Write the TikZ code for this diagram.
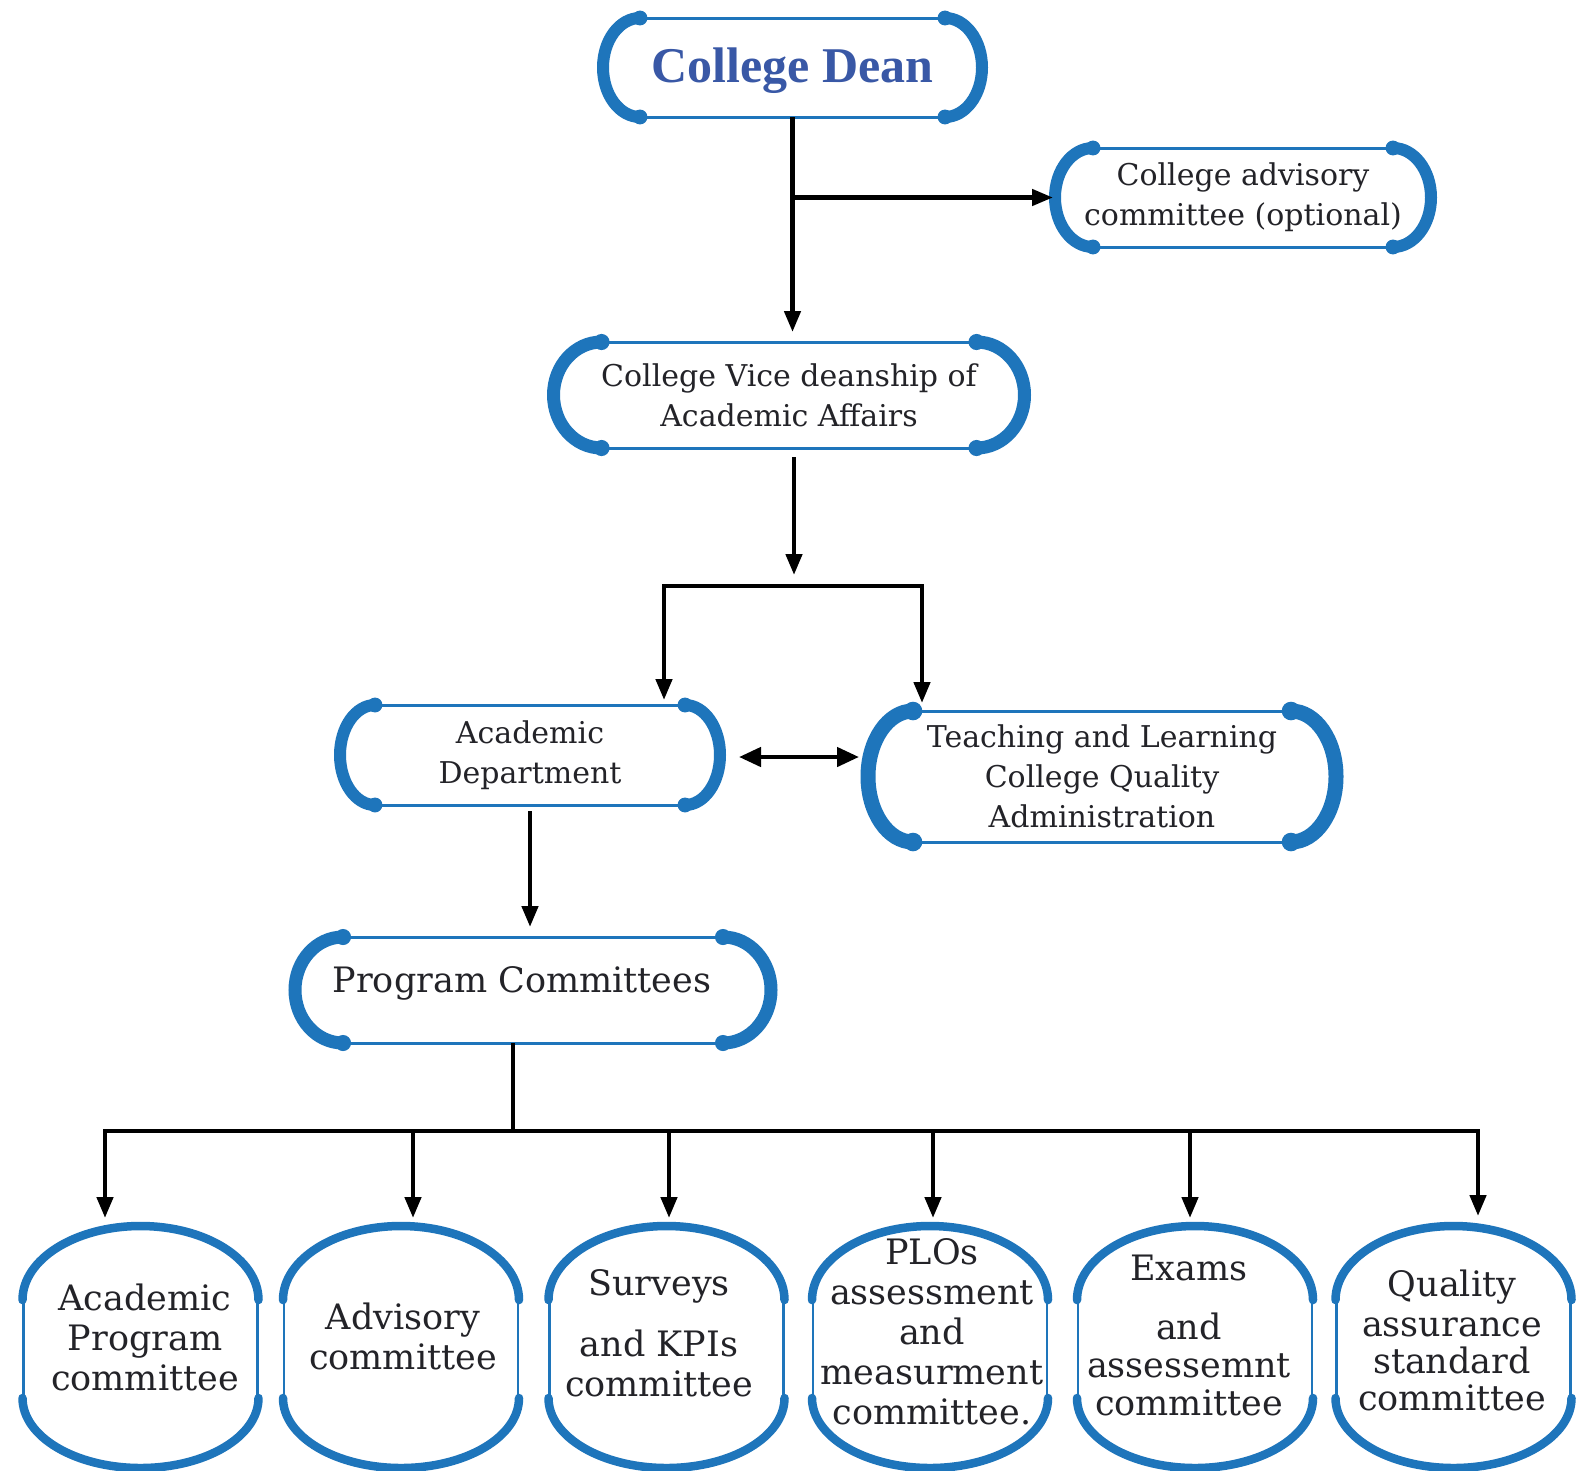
\documentclass[tikz,border=0pt]{standalone}
\usepackage{fontspec}
\setmainfont{DejaVu Serif}
\newfontfamily\deanfont{Liberation Serif}
\usetikzlibrary{arrows.meta}
\definecolor{boxblue}{RGB}{30,117,187}
\definecolor{deanblue}{RGB}{57,88,166}
\definecolor{txtc}{RGB}{35,35,40}

\tikzset{
 thinb/.style={draw=boxblue,line width=3pt},
 capbox/.style={inner sep=0pt,outer sep=0pt,text=txtc,align=center,font=\fontsize{30pt}{40pt}\selectfont},
 botbox/.style={inner sep=0pt,text=txtc,align=center,font=\fontsize{35pt}{40pt}\selectfont},
 conn/.style={line width=4.5pt,black},
 arr/.style={conn,-{Triangle[length=21pt,width=16pt]}},
 arrtwo/.style={conn,{Triangle[length=21pt,width=16pt]}-{Triangle[length=21pt,width=16pt]}},
 darr/.style={conn,{Triangle[length=22pt,width=19pt]}-{Triangle[length=22pt,width=19pt]}},
}

\newcommand{\capdeco}[4]{%
 \draw[thinb] ([xshift=#2]#1.north west) -- ([xshift=-#2]#1.north east);
 \draw[thinb] ([xshift=#2]#1.south west) -- ([xshift=-#2]#1.south east);
 \draw[boxblue,line width=#4,line cap=round] ([xshift=#2]#1.north west) arc[start angle=90,end angle=270,x radius=#2,y radius=#3];
 \draw[boxblue,line width=#4,line cap=round] ([xshift=-#2]#1.north east) arc[start angle=90,end angle=-90,x radius=#2,y radius=#3];
 \foreach \a in {north west,south west}{\fill[boxblue] ([xshift=#2]#1.\a) circle[radius=#4*0.62];}
 \foreach \a in {north east,south east}{\fill[boxblue] ([xshift=-#2]#1.\a) circle[radius=#4*0.62];}
}

\newcommand{\ovaldeco}[1]{%
 \draw[boxblue,line width=8.5pt,line cap=round] ({#1-118},1300) arc[start angle=180,end angle=0,x radius=118pt,y radius=74pt];
 \draw[boxblue,line width=8.5pt,line cap=round] ({#1-118},1398) arc[start angle=180,end angle=360,x radius=118pt,y radius=70pt];
 \draw[thinb,line width=2.5pt] ({#1-117},1300) -- ({#1-117},1398);
 \draw[thinb,line width=2.5pt] ({#1+117},1300) -- ({#1+117},1398);
}

\begin{document}
\begin{tikzpicture}[x=1pt,y=-1pt]
\useasboundingbox (0,0) rectangle (1576,1470);
\fill[white] (0,0) rectangle (1576,1470);

% boxes
\node[capbox,minimum width=379pt,minimum height=99pt,font=\deanfont\bfseries\fontsize{50pt}{56pt}\selectfont,text=deanblue,text height=38pt,text depth=8pt] (dean) at (792.5,67.5) {College Dean};
\capdeco{dean}{37pt}{49.5pt}{12pt}

\node[capbox,minimum width=376pt,minimum height=99pt] (adv) at (1243,197.5) {College advisory\\committee (optional)};
\capdeco{adv}{38pt}{49.5pt}{12pt}

\node[capbox,minimum width=471pt,minimum height=106pt] (vice) at (789,395) {College Vice deanship of\\Academic Affairs};
\capdeco{vice}{48pt}{53pt}{13pt}

\node[capbox,minimum width=380pt,minimum height=100pt] (acad) at (530,755) {Academic\\Department};
\capdeco{acad}{35pt}{50pt}{12pt}

\node[capbox,minimum width=468pt,minimum height=131pt] (teach) at (1102,776.5) {Teaching and Learning\\College Quality\\Administration};
\capdeco{teach}{45pt}{65.5pt}{15pt}

\node[capbox,minimum width=476pt,minimum height=106pt,font=\fontsize{35pt}{40pt}\selectfont,text height=21pt,text depth=17pt] (prog) at (533,990) {Program Committees\hspace*{22pt}};
\capdeco{prog}{48pt}{53pt}{13pt}

% bottom committees
\ovaldeco{140.5}
\ovaldeco{401}
\ovaldeco{666.5}
\ovaldeco{930}
\ovaldeco{1195}
\ovaldeco{1453.5}
\node[botbox] (apc) at (145,1337) {Academic\\Program\\committee};
\node[botbox] (advc) at (403,1336) {Advisory\\committee};
\node[botbox] (skc) at (659,1333) {Surveys\\[21pt]and KPIs\\committee};
\node[botbox] (plo) at (932,1332) {PLOs\\assessment\\and\\measurment\\committee.};
\node[botbox,font=\fontsize{35pt}{38pt}\selectfont] (exc) at (1189,1335) {Exams\\[21pt]and\\assessemnt\\committee};
\node[botbox,font=\fontsize{35pt}{37pt}\selectfont] (qas) at (1452,1340) {Quality\\[3pt]assurance\\standard\\committee};

% connectors top
\draw[arr] (dean.south) -- ([yshift=10pt]dean.south |- vice.north);
\draw[arr] (dean.south |- adv.west) -- ([xshift=-2pt]adv.west);

\coordinate (split) at (794,586);
\coordinate (brL) at (664,586);
\coordinate (brR) at (922,586);
\draw[arr] ([yshift=-9pt]vice.south -| split) -- ([yshift=11pt]split);
\draw[arrtwo] ([yshift=5pt]acad.north -| brL) -- (brL) -- (brR) -- ([yshift=8pt]teach.north -| brR);

\draw[darr] ([xshift=19pt,yshift=-2pt]acad.east) -- ([xshift=-9pt,yshift=-2pt]acad.east -| teach.west);

\draw[arr] ([yshift=-6pt]acad.south) -- ([yshift=10pt]acad.south |- prog.north);

% bus
\coordinate (bus) at (513,1131);
\coordinate (tA) at (105,1218);
\coordinate (tB) at (413,1218);
\coordinate (tC) at (669,1218);
\coordinate (tD) at (933,1218);
\coordinate (tE) at (1190,1218);
\coordinate (tF) at (1478,1216);
\draw[conn] (prog.south -| bus) -- (bus);
\draw[arr] (bus) -| (tA);
\draw[arr] (bus) -| (tF);
\foreach \t in {tB,tC,tD,tE} \draw[arr] (\t |- bus) -- (\t);
\end{tikzpicture}
\end{document}
